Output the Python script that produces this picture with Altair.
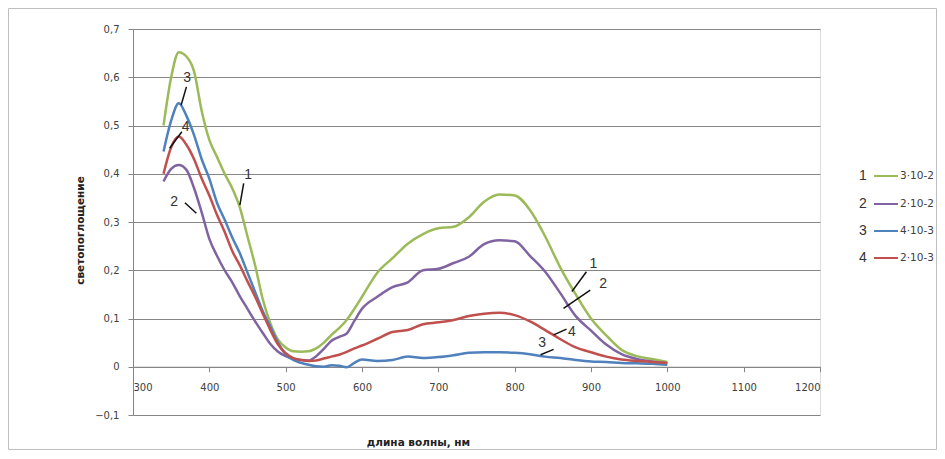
import altair as alt
import pandas as pd

wavelength = [340, 350, 360, 370, 380, 390, 400, 410, 420, 430, 440, 450, 460, 470, 480, 490,
              500, 510, 520, 530, 540, 550, 560, 570, 580, 590, 600, 620, 640, 660, 680, 700,
              720, 740, 760, 780, 800, 820, 840, 860, 880, 900, 920, 940, 960, 980, 1000]

s1 = [0.50, 0.60, 0.652, 0.643, 0.612, 0.53, 0.47, 0.435, 0.40, 0.37, 0.33, 0.27, 0.21, 0.14, 0.09, 0.056,
      0.04, 0.032, 0.031, 0.032, 0.038, 0.05, 0.066, 0.08, 0.097, 0.12, 0.145, 0.195, 0.225, 0.255, 0.275, 0.287,
      0.29, 0.31, 0.342, 0.357, 0.355, 0.325, 0.27, 0.205, 0.15, 0.10, 0.065, 0.035, 0.022, 0.016, 0.01]
s2 = [0.384, 0.41, 0.418, 0.408, 0.37, 0.32, 0.265, 0.23, 0.20, 0.175, 0.146, 0.12, 0.094, 0.07, 0.047, 0.031,
      0.022, 0.016, 0.014, 0.013, 0.022, 0.037, 0.054, 0.062, 0.069, 0.095, 0.12, 0.145, 0.165, 0.175, 0.20, 0.203,
      0.215, 0.228, 0.254, 0.262, 0.26, 0.23, 0.197, 0.152, 0.105, 0.075, 0.046, 0.026, 0.016, 0.011, 0.007]
s3 = [0.446, 0.51, 0.546, 0.52, 0.48, 0.43, 0.39, 0.34, 0.305, 0.268, 0.235, 0.195, 0.155, 0.115, 0.083, 0.05,
      0.026, 0.014, 0.008, 0.004, 0.001, 0.0, 0.003, 0.002, -0.001, 0.008, 0.015, 0.012, 0.014, 0.021, 0.018, 0.02,
      0.024, 0.029, 0.03, 0.03, 0.029, 0.026, 0.021, 0.018, 0.014, 0.011, 0.01, 0.008, 0.007, 0.006, 0.004]
s4 = [0.40, 0.455, 0.477, 0.46, 0.43, 0.39, 0.355, 0.315, 0.28, 0.24, 0.21, 0.177, 0.145, 0.11, 0.076, 0.046,
      0.028, 0.018, 0.014, 0.012, 0.013, 0.017, 0.021, 0.025, 0.031, 0.038, 0.044, 0.058, 0.072, 0.076, 0.088, 0.092,
      0.097, 0.105, 0.11, 0.112, 0.107, 0.094, 0.076, 0.057, 0.04, 0.03, 0.021, 0.015, 0.012, 0.01, 0.008]

series_ids = ["1", "2", "3", "4"]
series_labels = ["3·10-2", "2·10-2", "4·10-3", "2·10-3"]
series_colors = ["#9BBB59", "#8064A2", "#4F81BD", "#C0504D"]

# annotation numbers and leader lines (data coordinates)
ann_text = ["3", "4", "2", "1", "1", "2", "4", "3"]
ann_x = [371, 369, 354, 451, 903, 916, 875, 836]
ann_y = [0.598, 0.496, 0.342, 0.398, 0.212, 0.171, 0.073, 0.05]
lead_x1 = [370, 364, 368, 445, 894, 899, 868, 851]
lead_y1 = [0.58, 0.487, 0.34, 0.38, 0.197, 0.159, 0.078, 0.036]
lead_x2 = [363, 348, 383, 440, 875, 864, 851, 834]
lead_y2 = [0.542, 0.453, 0.318, 0.335, 0.156, 0.121, 0.066, 0.025]

x_ticks = [300, 400, 500, 600, 700, 800, 900, 1000, 1100, 1200]
y_ticks = [-0.1, 0, 0.1, 0.2, 0.3, 0.4, 0.5, 0.6, 0.7]

rows = []
for sid, vals in zip(series_ids, [s1, s2, s3, s4]):
    for w, v in zip(wavelength, vals):
        rows.append({"wl": w, "val": v, "series": sid})
df = pd.DataFrame(rows)

ann_df = pd.DataFrame({"t": ann_text, "x": ann_x, "y": ann_y})
lead_df = pd.DataFrame({"x": lead_x1, "y": lead_y1, "x2": lead_x2, "y2": lead_y2})

W, H = 687, 386
FONT = "DejaVu Sans"
GRID = "#868686"

xscale = alt.Scale(domain=[300, 1200], nice=False, zero=False)
yscale = alt.Scale(domain=[-0.1, 0.7], nice=False, zero=False)

x_axis = alt.Axis(values=x_ticks, format="d", grid=False, offset=-48.25, domainColor=GRID, tickColor=GRID,
                  tickSize=5, labelPadding=11, labelFont=FONT, labelFontSize=10, labelColor="#404040",
                  title="длина волны, нм", titleFont=FONT, titleFontSize=10.5, titleFontWeight="bold",
                  titleColor="#222222", titleX=285, titleY=76, titleBaseline="middle", titleAnchor="middle")
y_axis = alt.Axis(values=y_ticks, grid=True, gridColor=GRID, gridWidth=1, domainColor=GRID, tickColor=GRID,
                  tickSize=5, labelPadding=9, labelFont=FONT, labelFontSize=10, labelColor="#404040",
                  labelExpr="datum.value == 0 ? '0' : replace(format(datum.value, '.1f'), '.', ',')",
                  title="светопоглощение", titleFont=FONT, titleFontSize=10.5, titleFontWeight="bold",
                  titleColor="#222222", titleX=-53, titleY=201, titleAngle=270, titleBaseline="middle",
                  titleAlign="center")

lines = alt.Chart(df).mark_line(interpolate="monotone", strokeWidth=2.5).encode(
    x=alt.X("wl:Q", scale=xscale, axis=x_axis),
    y=alt.Y("val:Q", scale=yscale, axis=y_axis),
    color=alt.Color("series:N", scale=alt.Scale(domain=series_ids, range=series_colors), legend=None),
    order=alt.Order("wl:Q"),
)

leaders = alt.Chart(lead_df).mark_rule(color="#111111", strokeWidth=1.5).encode(
    x=alt.X("x:Q", scale=xscale), y=alt.Y("y:Q", scale=yscale),
    x2="x2:Q", y2="y2:Q",
)

ann = alt.Chart(ann_df).mark_text(font="Liberation Sans", fontSize=14, color="#333333").encode(
    x=alt.X("x:Q", scale=xscale), y=alt.Y("y:Q", scale=yscale), text="t:N",
)

one = alt.Data(values=[{}])
border = alt.Chart(one).mark_rect(fill=None, stroke="#BFBFBF", strokeWidth=1).encode(
    x=alt.value(-124.5), x2=alt.value(803.5), y=alt.value(-20.5), y2=alt.value(420.5),
)

legend_layers = []
row_y = [147, 175, 202, 229]
for sid, lab, col, yy in zip(series_ids, series_labels, series_colors, row_y):
    legend_layers.append(alt.Chart(one).mark_text(font="Liberation Sans", fontSize=14, color="#333333",
                                                  align="center", baseline="middle").encode(
        x=alt.value(730), y=alt.value(yy), text=alt.value(sid)))
    legend_layers.append(alt.Chart(one).mark_rule(color=col, strokeWidth=2).encode(
        x=alt.value(741), x2=alt.value(765), y=alt.value(yy)))
    legend_layers.append(alt.Chart(one).mark_text(font=FONT, fontSize=10.5, color="#404040",
                                                  align="left", baseline="middle").encode(
        x=alt.value(767), y=alt.value(yy), text=alt.value(lab)))

chart = alt.layer(border, lines, leaders, ann, *legend_layers).properties(
    width=W, height=H,
    autosize=alt.AutoSizeParams(type="none"),
    padding={"left": 125, "top": 21, "right": 117, "bottom": 36},
).configure_view(stroke=None).configure(background="white")

chart.save("out.html", embed_options={"renderer": "svg", "actions": False})
